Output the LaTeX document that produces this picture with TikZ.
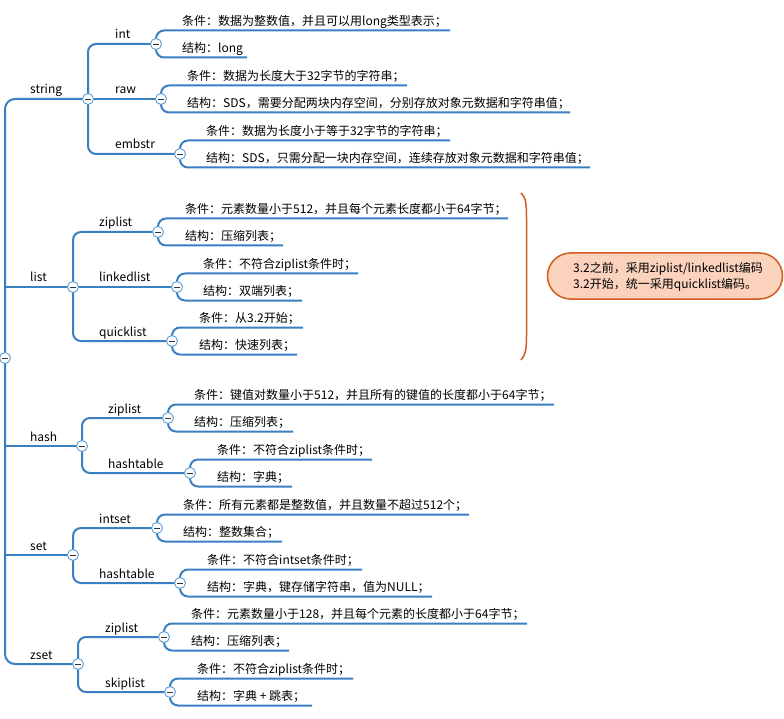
\documentclass[tikz,border=0pt]{standalone}
\usepackage{fontspec}
\setmainfont{Noto Sans CJK SC}
\definecolor{br}{HTML}{3A7FC2}
\definecolor{cb}{HTML}{5B9BD5}
\definecolor{og}{HTML}{D35B22}
\definecolor{pe}{HTML}{FBD3BD}
\tikzset{
  lnk/.style={draw=br, line width=2pt, rounded corners=8pt},
  lbl/.style={anchor=base west, font=\fontsize{12}{14}\selectfont, inner sep=0pt, text=black},
  col/.style={circle, draw=cb, fill=white, line width=0.9pt, minimum size=11pt, inner sep=0pt,
    path picture={\draw[line width=0.8pt, black!80] ([xshift=-2.6pt]path picture bounding box.center) -- ([xshift=2.6pt]path picture bounding box.center);}},
}
\newcommand\leafpair[8]{%
  \coordinate (#1t) at (#4,#3-13.5);
  \coordinate (#1b) at (#5,#3+13.5);
  \draw[lnk] (#1t) -- (#1 |- #1t) -- (#1 |- #1b) -- (#1b);
  \node[lbl] (#1x) at (#6,#3-18.5) {#7};
  \node[lbl] (#1y) at (#6,#3+8.5) {#8};
  \node[col] (#1k) at (#1) {};
}
\begin{document}
\begin{tikzpicture}[x=1pt,y=-1pt]
\useasboundingbox (0,0) rectangle (784,719);
% circle centres
\coordinate (R) at (5,358);
\coordinate (Sstr) at (88,99);
\coordinate (Slst) at (73,287);
\coordinate (Shsh) at (82,446);
\coordinate (Sset) at (73,555);
\coordinate (Szst) at (78,664);
\coordinate (int) at (156,44);
\coordinate (raw) at (161,99);
\coordinate (emb) at (180,154);
\coordinate (lz) at (158,232);
\coordinate (ll) at (177,287);
\coordinate (lq) at (172,341);
\coordinate (hz) at (168,418);
\coordinate (hh) at (190,473);
\coordinate (si) at (157,528);
\coordinate (sh) at (180,583);
\coordinate (zz) at (164,637);
\coordinate (zs) at (170,692);
% level 1 connectors
\draw[lnk, rounded corners=10pt] (Sstr) -- (R |- Sstr) -- (R |- Szst) -- (Szst);
\draw[lnk] (R |- Slst) -- (Slst);
\draw[lnk] (R |- Shsh) -- (Shsh);
\draw[lnk] (R |- Sset) -- (Sset);
% level 2 connectors
\draw[lnk] (int) -- (Sstr |- int) -- (Sstr |- emb) -- (emb);
\draw[lnk] (Sstr) -- (raw);
\draw[lnk] (lz) -- (Slst |- lz) -- (Slst |- lq) -- (lq);
\draw[lnk] (Slst) -- (ll);
\draw[lnk] (hz) -- (Shsh |- hz) -- (Shsh |- hh) -- (hh);
\draw[lnk] (si) -- (Sset |- si) -- (Sset |- sh) -- (sh);
\draw[lnk] (zz) -- (Szst |- zz) -- (Szst |- zs) -- (zs);
% leaves
\leafpair{int}{156}{44}{450}{247}{182}{条件：数据为整数值，并且可以用long类型表示；}{结构：long}
\leafpair{raw}{161}{99}{407}{570}{187}{条件：数据为长度大于32字节的字符串；}{结构：SDS，需要分配两块内存空间，分别存放对象元数据和字符串值；}
\leafpair{emb}{180}{154}{450}{590}{206}{条件：数据为长度小于等于32字节的字符串；}{结构：SDS，只需分配一块内存空间，连续存放对象元数据和字符串值；}
\leafpair{lz}{158}{232}{508}{283}{185}{条件：元素数量小于512，并且每个元素长度都小于64字节；}{结构：压缩列表；}
\leafpair{ll}{177}{287}{358}{302}{203}{条件：不符合ziplist条件时；}{结构：双端列表；}
\leafpair{lq}{172}{341}{303}{297}{199}{条件：从3.2开始；}{结构：快速列表；}
\leafpair{hz}{168}{418}{554}{293}{194}{条件：键值对数量小于512，并且所有的键值的长度都小于64字节；}{结构：压缩列表；}
\leafpair{hh}{190}{473}{372}{292}{217}{条件：不符合ziplist条件时；}{结构：字典；}
\leafpair{si}{157}{528}{469}{282}{183}{条件：所有元素都是整数值，并且数量不超过512个；}{结构：整数集合；}
\leafpair{sh}{180}{583}{362}{432}{207}{条件：不符合intset条件时；}{结构：字典，键存储字符串，值为NULL；}
\leafpair{zz}{164}{637}{527}{289}{191}{条件：元素数量小于128，并且每个元素的长度都小于64字节；}{结构：压缩列表；}
\leafpair{zs}{170}{692}{353}{312}{197}{条件：不符合ziplist条件时；}{结构：字典 + 跳表；}
% level 2 labels
\node[lbl] (Lint) at (115,39) {int};
\node[lbl] (Lraw) at (115,94) {raw};
\node[lbl] (Lemb) at (115,149) {embstr};
\node[lbl] (Llz) at (99,227) {ziplist};
\node[lbl] (Lll) at (99,282) {linkedlist};
\node[lbl] (Llq) at (99,336) {quicklist};
\node[lbl] (Lhz) at (108,413) {ziplist};
\node[lbl] (Lhh) at (108,468) {hashtable};
\node[lbl] (Lsi) at (99,523) {intset};
\node[lbl] (Lsh) at (99,578) {hashtable};
\node[lbl] (Lzz) at (105,632) {ziplist};
\node[lbl] (Lzs) at (105,687) {skiplist};
% level 1 labels
\node[lbl] (Lstr) at (30,94) {string};
\node[lbl] (Llst) at (30,282) {list};
\node[lbl] (Lhsh) at (30,441) {hash};
\node[lbl] (Lset) at (30,550) {set};
\node[lbl] (Lzst) at (30,659) {zset};
% collapse circles
\node[col] (kR) at (R) {};
\node[col] (kstr) at (Sstr) {};
\node[col] (klst) at (Slst) {};
\node[col] (khsh) at (Shsh) {};
\node[col] (kset) at (Sset) {};
\node[col] (kzst) at (Szst) {};
% brace and note
\coordinate (B1) at (521,193);
\coordinate (B2) at (521,360);
\draw[og, line width=1.5pt] (B1) .. controls (526,197) and (526.5,205) .. (526.5,218) -- (526.5,336) .. controls (526.5,350) and (525,356) .. (B2);
\node[draw=og, fill=pe, line width=1.5pt, rounded corners=23pt, minimum width=235pt, minimum height=46pt, inner sep=0pt] (note) at (665,276) {};
\node[anchor=west, align=left, font=\fontsize{12}{16}\selectfont, inner sep=0pt] (notetext) at (573,277) {3.2之前，采用ziplist/linkedlist编码\\3.2开始，统一采用quicklist编码。};
\end{tikzpicture}
\end{document}
